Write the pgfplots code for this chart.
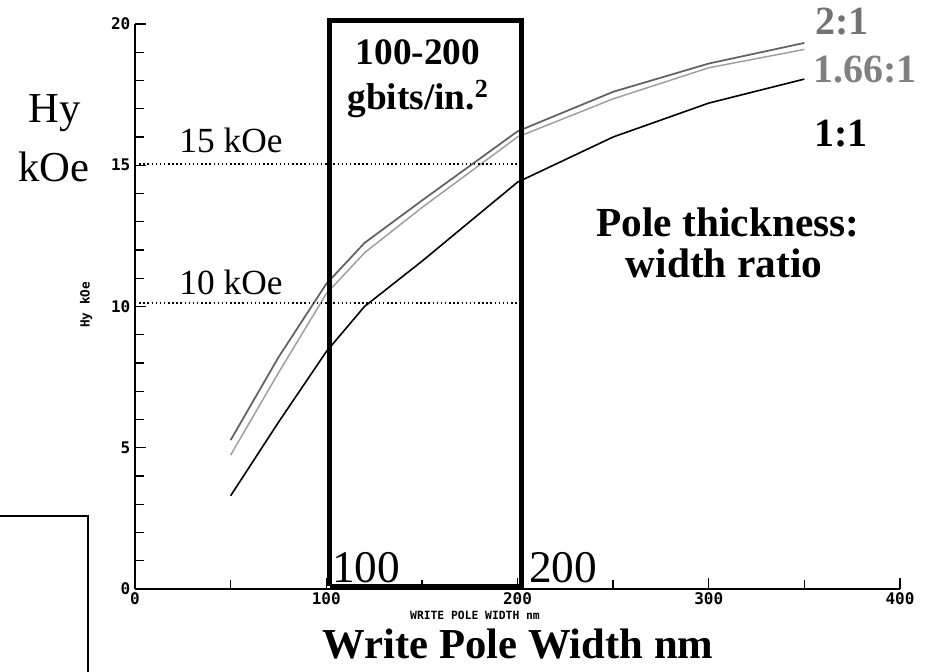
\documentclass[border=0pt]{standalone}
\usepackage{fontspec}
\setmainfont{Liberation Serif}
\newfontfamily\tickfont{DejaVu Sans Mono}
\usepackage{pgfplots}
\pgfplotsset{compat=1.18}

\pgfplotstableread{
x y
50 5.27
75 8.2
100 10.8
120 12.25
150 13.75
200 16.2
250 17.6
300 18.6
350 19.33
}\twotoone
\pgfplotstableread{
x y
50 4.74
75 7.65
100 10.45
120 11.9
150 13.5
200 16.0
250 17.35
300 18.45
350 19.1
}\onesixsix
\pgfplotstableread{
x y
50 3.3
75 5.9
100 8.4
120 10.0
150 11.6
200 14.4
250 16.0
300 17.2
350 18.05
}\onetoone

\begin{document}
\begin{tikzpicture}
\useasboundingbox (0,0) rectangle (697.5pt,503.25pt);
\begin{axis}[
  at={(101.25pt,61.5pt)}, anchor=south west,
  scale only axis, width=573.75pt, height=423.75pt,
  xmin=0, xmax=400, ymin=0, ymax=20,
  axis x line=bottom, axis y line=left,
  axis line style={-, line width=1.1pt},
  xtick={0,100,200,300,400}, ytick={0,5,10,15,20},
  minor xtick={50,150,250,350},
  minor ytick={1,2,3,4,6,7,8,9,11,12,13,14,16,17,18,19},
  tick align=inside, major tick length=8pt, minor tick length=6.5pt,
  every tick/.style={black, line width=1pt},
  tick label style={font=\tickfont\bfseries\fontsize{12}{13}\selectfont},
  xticklabel style={yshift=1pt},
  /pgf/number format/assume math mode=true,
  clip=false,
]
\addplot[black!38, line width=1.1pt] table[x=x,y=y] {\onesixsix};
\addplot[black!62, line width=1.3pt] table[x=x,y=y] {\twotoone};
\addplot[black, line width=1.2pt] table[x=x,y=y] {\onetoone};
\addplot[black, dotted, line width=1.1pt] coordinates {(0,15.05) (201,15.05)};
\addplot[black, dotted, line width=1.1pt] coordinates {(0,10.12) (201,10.12)};
\addplot[black, line width=3.8pt, line join=miter] coordinates {(101.8,0.1) (101.8,20.13) (202,20.13) (202,0.1) (101.8,0.1)};
\end{axis}
\begin{scope}[x=0.75pt, y=-0.75pt, shift={(0,503.25pt)}]
\draw[line width=1.1pt] (0,516) -- (88,516) -- (88,675);
\node[anchor=base, font=\fontsize{32}{38}\selectfont, inner sep=0] at (55,123) {Hy};
\node[anchor=base, font=\fontsize{32}{38}\selectfont, inner sep=0] at (54,182) {kOe};
\node[anchor=base, font=\fontsize{26.5}{30}\selectfont, inner sep=0] at (231,153) {15 kOe};
\node[anchor=base, font=\fontsize{26.5}{30}\selectfont, inner sep=0] at (231,295) {10 kOe};
\node[anchor=base, font=\fontsize{34}{40}\selectfont, inner sep=0] at (366,582) {100};
\node[anchor=base, font=\fontsize{34}{40}\selectfont, inner sep=0] at (563,582) {200};
\node[anchor=base, font=\bfseries\fontsize{28}{32}\selectfont, inner sep=0] at (418,65) {100-200};
\node[anchor=base, font=\bfseries\fontsize{28}{32}\selectfont, inner sep=0] at (418,110) {gbits/in.\textsuperscript{2}};
\node[anchor=base, font=\bfseries\fontsize{30}{34}\selectfont, inner sep=0, text=black!55] at (842,35) {2:1};
\node[anchor=base, font=\bfseries\fontsize{30}{34}\selectfont, inner sep=0, text=black!50] at (865,83) {1.66:1};
\node[anchor=base, font=\bfseries\fontsize{30}{34}\selectfont, inner sep=0] at (841,147) {1:1};
\node[anchor=base, font=\bfseries\fontsize{31}{36}\selectfont, inner sep=0] at (728,237) {Pole thickness:};
\node[anchor=base, font=\bfseries\fontsize{31}{36}\selectfont, inner sep=0] at (724,278) {width ratio};
\node[anchor=base, font=\bfseries\fontsize{32}{38}\selectfont, inner sep=0] at (518,658) {Write Pole Width nm};
\node[anchor=base, font=\tickfont\bfseries\fontsize{8.5}{10}\selectfont, inner sep=0] at (475,619) {WRITE POLE WIDTH nm};
\node[font=\tickfont\bfseries\fontsize{9.5}{10}\selectfont, inner sep=0, rotate=90] at (86,305) {Hy kOe};
\end{scope}
\end{tikzpicture}
\end{document}
